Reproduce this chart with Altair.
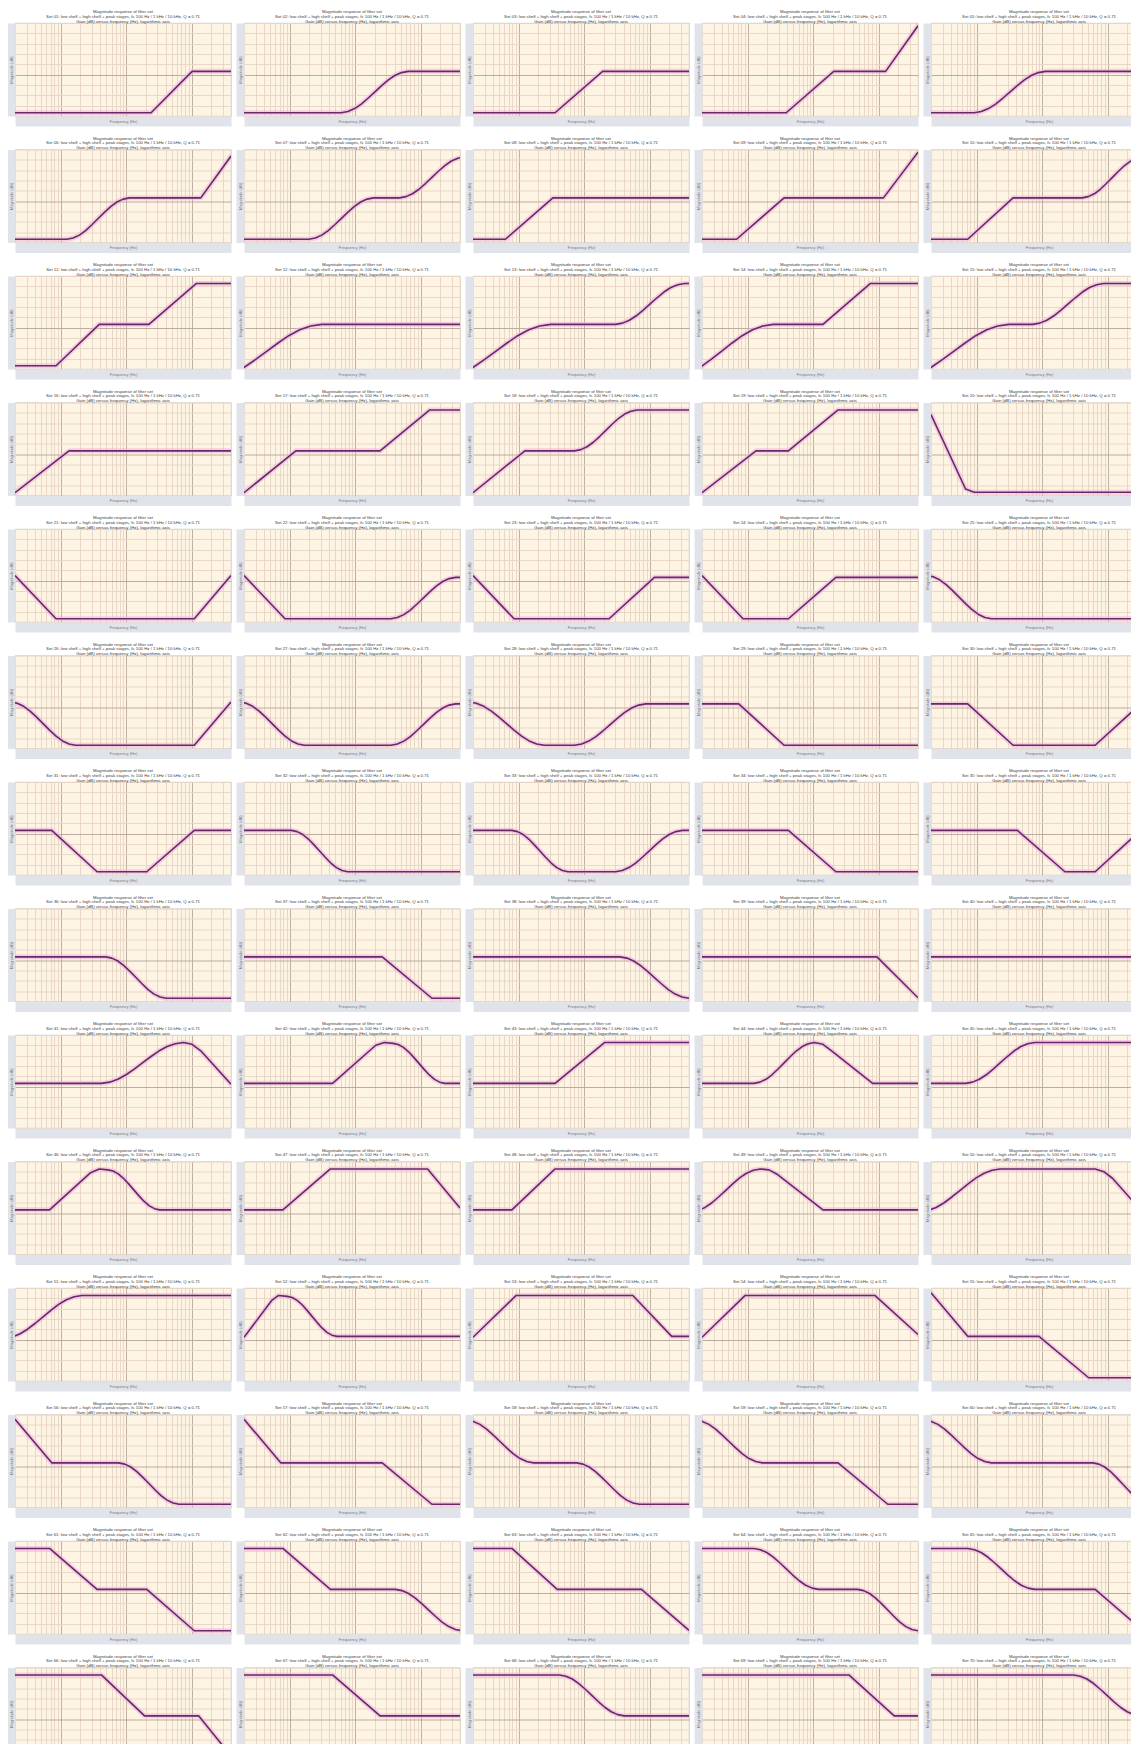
import altair as alt
import pandas as pd

# ---- axis ranges (log frequency axis, magnitude in dB) ----
F_MIN, F_MAX = 20, 40000
Y_MIN, Y_MAX = -40, 50
X_GRID = [20, 30, 40, 50, 60, 70, 80, 90,
          100, 200, 300, 400, 500, 600, 700, 800, 900,
          1000, 2000, 3000, 4000, 5000, 6000, 7000, 8000, 9000,
          10000, 20000, 30000, 40000]
Y_GRID = [-40, -30, -20, -10, 0, 10, 20, 30, 40, 50]

# ---- levels (fraction of plot height) ----
L, M, H = 0.035, 0.48, 0.92

# smooth (second-order) transition shape
S_T = [0.0, 0.1, 0.2, 0.3, 0.4, 0.5, 0.6, 0.7, 0.8, 0.9, 1.0]
S_P = [0.0, 0.03, 0.1, 0.21, 0.35, 0.5, 0.65, 0.79, 0.9, 0.97, 1.0]

# knots: (position across log axis 0..1, level 0..1[, 's' = smooth segment])
ROW_01 = [
    [(0, L), (0.63, L), (0.82, M), (1, M)],
    [(0, L), (0.45, L), (0.76, M, 's'), (1, M)],
    [(0, L), (0.38, L), (0.6, M), (1, M)],
    [(0, L), (0.39, L), (0.61, M), (0.85, M), (1, 0.97)],
    [(0, L), (0.2, L), (0.53, M, 's'), (1, M)],
]
ROW_02 = [
    [(0, L), (0.24, L), (0.53, M, 's'), (0.86, M), (1, 0.93)],
    [(0, L), (0.3, L), (0.6, M, 's'), (0.72, M), (1.02, H, 's')],
    [(0, L), (0.15, L), (0.37, M), (1, M)],
    [(0, L), (0.16, L), (0.38, M), (0.84, M), (1, 0.97)],
    [(0, L), (0.17, L), (0.38, M), (0.7, M), (0.98, H, 's'), (1, H)],
]
ROW_03 = [
    [(0, L), (0.19, L), (0.39, M), (0.62, M), (0.84, H), (1, H)],
    [(-0.15, -0.1), (0.36, M, 's'), (1, M)],
    [(-0.15, -0.1), (0.36, M, 's'), (0.66, M), (0.98, H, 's'), (1, H)],
    [(-0.15, -0.1), (0.33, M, 's'), (0.56, M), (0.78, H), (1, H)],
    [(-0.15, -0.1), (0.36, M, 's'), (0.47, M), (0.8, H, 's'), (1, H)],
]
ROW_04 = [
    [(0, 0.03), (0.25, M), (1, M)],
    [(0, 0.03), (0.24, M), (0.63, M), (0.86, H), (1, H)],
    [(0, 0.03), (0.24, M), (0.47, M), (0.76, H, 's'), (1, H)],
    [(0, 0.03), (0.25, M), (0.4, M), (0.63, H), (1, H)],
    [(0, 0.87), (0.16, 0.07), (0.2, L), (1, L)],
]
ROW_05 = [
    [(0, 0.5), (0.19, L), (0.83, L), (1, 0.5)],
    [(0, 0.5), (0.19, L), (0.68, L), (0.98, M, 's'), (1, M)],
    [(0, 0.5), (0.19, L), (0.63, L), (0.84, M), (1, M)],
    [(0, 0.5), (0.19, L), (0.4, L), (0.62, M), (1, M)],
    [(-0.02, 0.5), (0.28, L, 's'), (1, L)],
]
ROW_06 = [
    [(-0.02, 0.5), (0.28, L, 's'), (0.83, L), (1, 0.5)],
    [(-0.02, 0.5), (0.28, L, 's'), (0.68, L), (0.98, M, 's'), (1, M)],
    [(-0.02, 0.5), (0.33, L, 's'), (0.47, L), (0.8, M, 's'), (1, M)],
    [(0, M), (0.17, M), (0.38, L), (1, L)],
    [(0, M), (0.17, M), (0.38, L), (0.76, L), (0.97, M), (1, M)],
]
ROW_07 = [
    [(0, M), (0.17, M), (0.38, L), (0.61, L), (0.83, M), (1, M)],
    [(0, M), (0.22, M), (0.48, L, 's'), (1, L)],
    [(0, M), (0.18, M), (0.44, L, 's'), (0.66, L), (0.97, M, 's'), (1, M)],
    [(0, M), (0.4, M), (0.62, L), (1, L)],
    [(0, M), (0.4, M), (0.62, L), (0.76, L), (0.97, M), (1, M)],
]
ROW_08 = [
    [(0, M), (0.42, M), (0.7, L, 's'), (1, L)],
    [(0, M), (0.64, M), (0.87, L), (1, L)],
    [(0, M), (0.68, M), (1.0, L, 's')],
    [(0, M), (0.81, M), (1.0, 0.04)],
    [(0, M), (1, M)],
]
ROW_09 = [
    [(0, M), (0.4, M), (0.78, 0.92, 's'), (0.82, 0.9), (0.86, 0.83), (1.0, 0.47)],
    [(0, M), (0.41, M), (0.61, 0.89), (0.65, 0.92), (0.69, 0.91), (0.93, M, 's'), (1, M)],
    [(0, M), (0.38, M), (0.61, H), (1, H)],
    [(0, M), (0.24, M), (0.52, 0.92, 's'), (0.56, 0.9), (0.6, 0.83), (0.79, M), (1, M)],
    [(0, M), (0.16, M), (0.48, H, 's'), (1, H)],
]
ROW_10 = [
    [(0, M), (0.16, M), (0.35, 0.88), (0.39, 0.92), (0.43, 0.91), (0.67, M, 's'), (1, M)],
    [(0, M), (0.18, M), (0.4, H), (0.85, H), (1.0, 0.5)],
    [(0, M), (0.18, M), (0.38, H), (1, H)],
    [(-0.05, 0.46), (0.27, 0.92, 's'), (0.31, 0.91), (0.35, 0.86), (0.56, M), (1, M)],
    [(-0.05, 0.46), (0.32, H, 's'), (0.76, H), (0.8, 0.89), (0.84, 0.82), (0.97, 0.48), (1.0, 0.4)],
]
ROW_11 = [
    [(-0.05, 0.46), (0.31, H, 's'), (1, H)],
    [(0, 0.47), (0.13, 0.87), (0.16, 0.92), (0.2, 0.91), (0.43, M, 's'), (1, M)],
    [(0, 0.47), (0.2, H), (0.74, H), (0.92, M), (1, M)],
    [(0, 0.47), (0.2, H), (0.8, H), (1.0, 0.5)],
    [(0, 0.95), (0.17, M), (0.5, M), (0.73, L), (1, L)],
]
ROW_12 = [
    [(0, 0.95), (0.17, M), (0.48, M), (0.76, L, 's'), (1, L)],
    [(0, 0.95), (0.17, M), (0.64, M), (0.87, L), (1, L)],
    [(-0.03, 0.94), (0.28, M, 's'), (0.48, M), (0.77, L, 's'), (1, L)],
    [(-0.03, 0.94), (0.28, M, 's'), (0.63, M), (0.86, L), (1, L)],
    [(-0.03, 0.94), (0.28, M, 's'), (0.75, M), (1.02, L, 's')],
]
ROW_13 = [
    [(0, H), (0.16, H), (0.38, M), (0.61, M), (0.83, L), (1, L)],
    [(0, H), (0.18, H), (0.4, M), (0.7, M), (1.01, L, 's')],
    [(0, H), (0.18, H), (0.39, M), (0.78, M), (1.0, 0.04)],
    [(0, H), (0.24, H), (0.54, M, 's'), (0.72, M), (1.0, L, 's')],
    [(0, H), (0.17, H), (0.48, M, 's'), (0.76, M), (1.0, 0.0)],
]
ROW_14 = [
    [(0, H), (0.4, H), (0.6, M), (0.85, M), (1.0, 0.05)],
    [(0, H), (0.41, H), (0.63, M), (1, M)],
    [(0, H), (0.4, H), (0.7, M, 's'), (1, M)],
    [(0, H), (0.68, H), (0.89, M), (1, M)],
    [(0, H), (0.66, H), (0.97, M, 's'), (1, M)],
]
ROWS = [ROW_01, ROW_02, ROW_03, ROW_04, ROW_05, ROW_06, ROW_07,
        ROW_08, ROW_09, ROW_10, ROW_11, ROW_12, ROW_13, ROW_14]

TITLE_1 = "Magnitude response of filter set"
TITLE_2 = "Set {:02d}: low shelf + high shelf + peak stages, fc 100 Hz / 1 kHz / 10 kHz, Q = 0.71"
TITLE_3 = "Gain (dB) versus frequency (Hz), logarithmic axis"
X_TITLE = "Frequency (Hz)"
Y_TITLE = "Magnitude (dB)"


def expand(knots):
    pts = [(knots[0][0], knots[0][1])]
    for prev, cur in zip(knots, knots[1:]):
        u0, v0 = prev[0], prev[1]
        u1, v1 = cur[0], cur[1]
        if len(cur) > 2 and cur[2] == 's':
            for t, p in zip(S_T[1:-1], S_P[1:-1]):
                pts.append((u0 + t * (u1 - u0), v0 + p * (v1 - v0)))
        pts.append((u1, v1))
    return pts


records = []
n = 0
for row in ROWS:
    for knots in row:
        n += 1
        key = "{:02d}|{}|{}|{}".format(n, TITLE_1, TITLE_2.format(n), TITLE_3)
        for i, (u, v) in enumerate(expand(knots)):
            records.append({
                "key": key,
                "i": i,
                "f": F_MIN * (F_MAX / F_MIN) ** u,
                "db": Y_MIN + v * (Y_MAX - Y_MIN),
            })
df = pd.DataFrame(records)

FONT = "Liberation Sans"
BAND = "#e1e3ea"

x_enc = alt.X(
    "f:Q",
    scale=alt.Scale(type="log", domain=[F_MIN, F_MAX], nice=False),
    axis=alt.Axis(
        values=X_GRID, labels=False, ticks=False, grid=True,
        gridColor={"condition": {"test": "abs(log(datum.value)/LN10 - round(log(datum.value)/LN10)) < 0.001",
                                 "value": "#b9a99a"},
                   "value": "#e6d5c3"},
        gridWidth=0.9,
        domain=True, domainColor=BAND, domainWidth=10, offset=5,
        title=X_TITLE, titleFontSize=4, titleFont=FONT, titleColor="#7a7a7a",
        titleFontWeight="normal", titleY=0, titleBaseline="middle",
    ),
)
y_enc = alt.Y(
    "db:Q",
    scale=alt.Scale(domain=[Y_MIN, Y_MAX], nice=False),
    axis=alt.Axis(
        values=Y_GRID, labels=False, ticks=False, grid=True,
        gridColor={"condition": {"test": "datum.value === 0", "value": "#b5a597"},
                   "value": "#e6d5c3"},
        gridWidth=0.9,
        domain=True, domainColor=BAND, domainWidth=8, offset=4,
        title=Y_TITLE, titleFontSize=4, titleFont=FONT, titleColor="#7a7a7a",
        titleFontWeight="normal", titleX=0, titleAngle=270, titleBaseline="middle",
        titleAlign="center",
    ),
)

halo = alt.Chart(df).mark_line(
    clip=True, color="#f1b4dc", strokeWidth=5, opacity=0.6,
    strokeCap="round", strokeJoin="round",
).encode(x=x_enc, y=y_enc, order="i:Q")

core = alt.Chart(df).mark_line(
    clip=True, color="#662a6b", strokeWidth=1.6, strokeJoin="round",
).encode(x=x_enc, y=y_enc, order="i:Q")

# the reference is a crop of a larger grid: the right column and the
# bottom row run past the edge of the picture, so the view is cropped too
chart = alt.layer(halo, core).properties(width=216, height=93).facet(
    facet=alt.Facet(
        "key:N",
        title=None,
        header=alt.Header(
            labelExpr="slice(split(datum.value, '|'), 1)",
            labelFontSize=4.3, labelFont=FONT, labelColor="#3c3c3c",
            labelLineHeight=4.7, labelPadding=-1,
        ),
    ),
    columns=5,
    spacing={"row": 11.5, "column": 5},
).resolve_axis(
    x="independent", y="independent"
).properties(
    padding={"left": 0, "top": 1, "right": -17, "bottom": -24}
).configure(
    background="white", font=FONT
).configure_view(
    fill="#fdf4e4", stroke="#c9cbd3", strokeWidth=0.7
)

chart.save("out.html", embed_options={"renderer": "svg", "actions": False})
